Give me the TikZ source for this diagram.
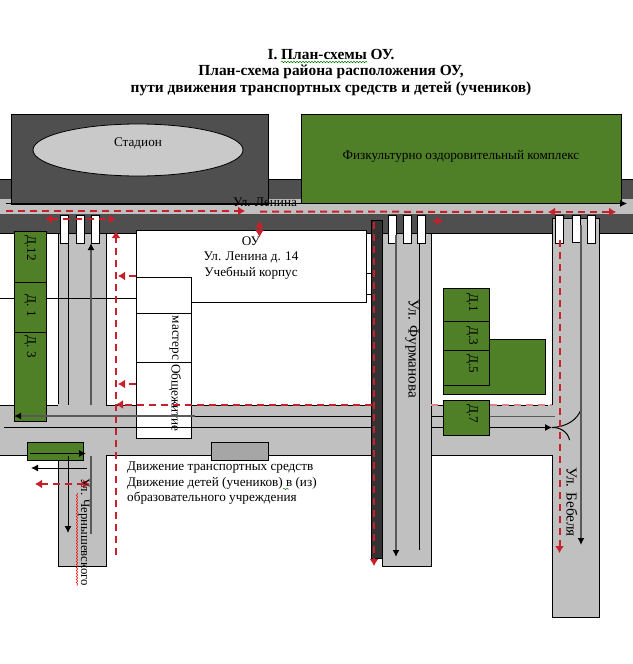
\documentclass[tikz,border=0pt]{standalone}
\usepackage{fontspec}
\setmainfont{Liberation Serif}
\usetikzlibrary{arrows.meta,decorations.pathmorphing}
\definecolor{roadgray}{HTML}{C0C0C0}
\definecolor{darkband}{HTML}{4F4F4F}
\definecolor{housegreen}{HTML}{4F7F27}
\definecolor{walkred}{HTML}{C8202A}
\tikzset{
	roadbox/.style={draw=black,fill=roadgray,line width=0.9pt},
	house/.style={draw=black,fill=housegreen,line width=0.9pt},
	whitebox/.style={draw=black,fill=white,line width=0.9pt},
	crossbar/.style={draw=black,fill=white,line width=0.9pt},
	carline/.style={black,line width=1pt},
	carlinegray/.style={black!65,line width=1.5pt},
	cartip/.style={-{Latex[black,length=7pt,width=7pt]}},
	walk/.style={walkred,line width=2pt,dash pattern=on 7pt off 5pt},
	walktip/.style={-{Latex[length=7pt,width=9pt]}},
	walktips/.style={{Latex[length=7pt,width=9pt]}-{Latex[length=7pt,width=9pt]}},
	wavy/.style={decorate,decoration={snake,amplitude=0.7pt,segment length=3pt},line width=0.5pt},
	caption/.style={font=\fontsize{13.2}{15.5}\selectfont,inner sep=0pt},
	sidetext/.style={font=\fontsize{13.2}{15.5}\selectfont,inner sep=0pt,rotate=-90},
}
\begin{document}
\begin{tikzpicture}[x=1pt,y=-1pt]
	\useasboundingbox (0,0) rectangle (632,664);
	\fill[white] (0,0) rectangle (632,664);

	% title
	\node[font=\bfseries\fontsize{15.4}{16.5}\selectfont,align=center,inner sep=0pt] (title) at (331,72.5)
		{I. План-схемы ОУ.\\План-схема района расположения ОУ,\\пути движения транспортных средств и детей (учеников)};
	\draw[wavy,green!50!black] (281,62) -- (367,62);

	% ul. Lenina
	\draw[draw=black,fill=darkband,line width=0.8pt] (-1,179.5) rectangle (633,233);
	\fill[roadgray] (-1,199) rectangle (633,214);
	\draw[draw=black,fill=darkband,line width=0.8pt] (11,114) rectangle (268,204);
	\draw[draw=black,fill=roadgray!85!white,line width=0.8pt] (138,150) ellipse (105 and 26);
	\draw[house] (301,114) rectangle (621,203);
	\node[caption] (stadium) at (138,143) {Стадион};
	\node[caption] (sport) at (461,156) {Физкультурно оздоровительный комплекс};

	% roads
	\draw[roadbox] (58,233) rectangle (106.5,566);
	\draw[roadbox] (-1,405) rectangle (553,455.5);
	\draw[roadbox] (382.5,233) rectangle (431,566.5);
	\draw[roadbox] (552,218) rectangle (599.5,617);
	\fill[roadgray] (58.4,404) rectangle (106.1,457);
	\fill[roadgray] (548,405.4) rectangle (556,455.1);
	\fill[roadgray] (383,405.4) rectangle (430.6,455.1);
	\fill[black!80] (371,220) rectangle (382.5,558.5);
	\draw[black,line width=0.6pt] (371,220) rectangle (382.5,558.5);
	\draw[carline] (0,298) -- (136,298);

	% crossings
	\draw[crossbar] (60,215) rectangle (68,243);
	\draw[crossbar] (76,215) rectangle (84,243);
	\draw[crossbar] (91,215) rectangle (99,243);
	\draw[crossbar] (388,215) rectangle (396,243);
	\draw[crossbar] (403,215) rectangle (411,243);
	\draw[crossbar] (417,215) rectangle (425.5,243);
	\draw[crossbar] (555,215) rectangle (563,243);
	\draw[crossbar] (572,215) rectangle (580,242);
	\draw[crossbar] (587,215) rectangle (595,243);

	% school
	\draw[whitebox] (366,273) rectangle (371,294);
	\draw[whitebox] (136,230.5) rectangle (366,302);
	\draw[whitebox] (136,277) rectangle (191,438);
	\draw[black,line width=0.9pt] (136,313) -- (191,313);
	\draw[black,line width=0.9pt] (136,362) -- (191,362);
	\node[caption,align=center] (school) at (251,258) {ОУ\\Ул. Ленина д. 14\\Учебный корпус};
	\node[sidetext] (master) at (174,338) {мастерс};
	\node[sidetext] (hostel) at (175,398) {Общежитие};

	% houses
	\draw[house] (14,231) rectangle (46,421);
	\draw[black,line width=0.9pt] (14,282) -- (46,282);
	\draw[black,line width=0.9pt] (14,332) -- (46,332);
	\node[sidetext] (d12) at (30,248) {Д.12};
	\node[sidetext] (d1l) at (30,306) {Д. 1};
	\node[sidetext] (d3l) at (30,347) {Д. 3};
	\draw[house] (443,339) rectangle (545.5,394);
	\draw[house] (443,288) rectangle (489.5,321);
	\draw[house] (443,321) rectangle (489.5,350);
	\draw[house] (443,350) rectangle (489.5,385);
	\draw[house] (443,400) rectangle (489.5,435.5);
	\node[sidetext] (d1r) at (472,303) {Д.1};
	\node[sidetext] (d3r) at (472,336) {Д.3};
	\node[sidetext] (d5r) at (472,364) {Д.5};
	\node[sidetext] (d7) at (472,414) {Д.7};
	\draw[house] (27,442) rectangle (83.5,460.5);
	\draw[draw=black,fill=black!35,line width=0.9pt] (211,442) rectangle (268,460.5);

	% traffic
	\draw[carline,cartip] (6,203.5) -- (627,203.5);
	\draw[carline] (68,243) -- (68,405);
	\draw[carlinegray,cartip] (91,405) -- (91,243);
	\draw[carlinegray,cartip] (195,416) -- (14,416);
	\draw[carline] (195,416) -- (372,416);
	\draw[carline] (4,427.5) -- (372,427.5);
	\draw[carline] (431,416) -- (443,416);
	\draw[carline] (431,427.5) -- (443,427.5);
	\draw[carlinegray,line width=1pt] (489.5,416) -- (555,416);
	\draw[carline,cartip] (489.5,427.5) -- (552,427.5);
	\draw[carline] (581.5,408) .. controls (578,420) and (566,427) .. (552,427.5);
	\draw[carline] (552,427.5) .. controls (560,427) and (568,432) .. (569.5,440);
	\draw[carlinegray,cartip] (396,235) -- (396,557);
	\draw[carline] (419.5,243) -- (419.5,550);
	\draw[carlinegray,cartip] (581,225) -- (581,545);
	\draw[carline,cartip] (30,453.5) -- (86,453.5);
	\draw[carline,cartip] (87,468) -- (31,468);
	\draw[carline,cartip] (68,456) -- (68,533);
	\draw[carlinegray] (91,456) -- (91,534);

	% walking routes
	\draw[walk,walktip] (6,211) -- (245,211);
	\draw[walk] (260,211.5) -- (548,212);
	\draw[walk,walktips] (548,212) -- (616,212);
	\draw[walk,walktips] (45,219) -- (116,219);
	\draw[walk,walktip] (116,555) -- (116,231);
	\draw[walk,solid,walktips] (259.5,221) -- (259.5,237);
	\draw[walk,walktip] (136,276) -- (118,276);
	\draw[walk,walktip] (136,384) -- (118,384);
	\draw[walk,walktip] (372,404.5) -- (116,404.5);
	\draw[walk,walktip,solid] (433,221) -- (443,221);
	\draw[walk,draw=walkred!55!white] (431,404.5) -- (443,404.5);
	\draw[walk,draw=walkred!55!white] (489.5,404.5) -- (552,404.5);
	\draw[walk,walktip] (374,222) -- (374,566);
	\draw[walk,walktip] (559.5,240) -- (559.5,553);
	\draw[walk,walktips] (35,484) -- (90,484);

	% street names
	\node[caption] (lenina) at (265,202) {Ул. Ленина};
	\node[sidetext,font=\fontsize{15.2}{17}\selectfont] (furmanova) at (412,349) {Ул. Фурманова};
	\node[sidetext,font=\fontsize{15.2}{17}\selectfont] (bebelya) at (572,502) {Ул. Бебеля};
	\node[sidetext,font=\fontsize{12.8}{15}\selectfont] (chern) at (84,532) {Ул. Чернышевского};
	\draw[wavy,red] (77,493) -- (77,586);

	% legend
	\node[caption,anchor=west] (legend1) at (127,468) {Движение транспортных средств};
	\node[caption,anchor=west] (legend2) at (127,483) {Движение детей (учеников) в (из)};
	\node[caption,anchor=west] (legend3) at (127,498) {образовательного учреждения};
	\draw[wavy,green!50!black] (283,489) -- (289,489);
\end{tikzpicture}
\end{document}
